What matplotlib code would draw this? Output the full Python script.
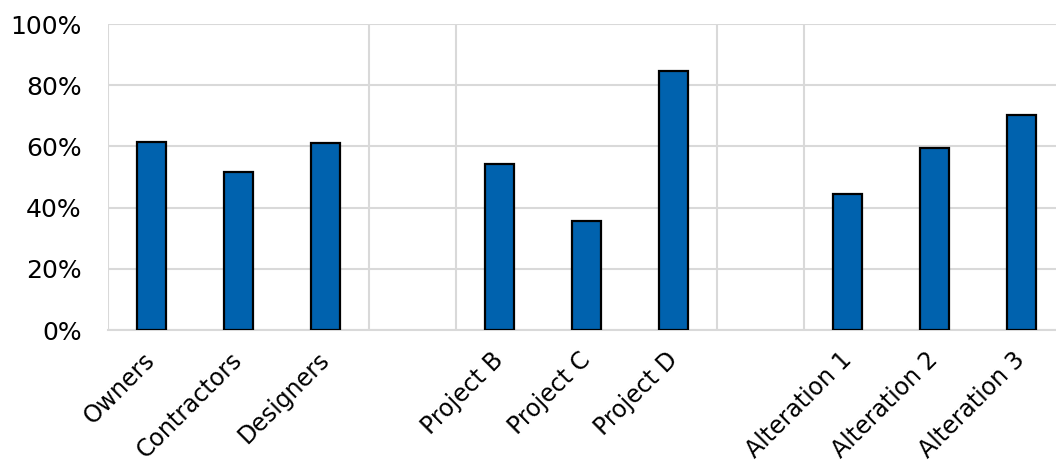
import numpy as np
import matplotlib.pyplot as plt
from matplotlib.ticker import PercentFormatter

# survey groups, projects and alterations; blank slots keep the gaps between groups
categories = ["Owners", "Contractors", "Designers", "",
              "Project B", "Project C", "Project D", "",
              "Alteration 1", "Alteration 2", "Alteration 3"]
values = [61.3, 51.7, 61.0, None,
          54.2, 35.6, 84.6, None,
          44.3, 59.4, 70.2]
group_edges = [0, 3, 4, 7, 8]

bar_color = "#0062ae"
grid_color = "#d9d9d9"

fig = plt.figure(figsize=(10.56, 4.70), dpi=100)
# the plot runs past the right edge of the figure on purpose
ax = fig.add_axes([108 / 1056, 1 - 330 / 470, 957 / 1056, 306 / 470])

x = np.arange(len(categories))
heights = [v if v is not None else 0 for v in values]
mask = [v is not None for v in values]
ax.bar(x[mask], np.array(heights)[mask], width=0.33, color=bar_color,
       edgecolor="black", linewidth=1.6, zorder=3)

ax.set_xlim(-0.5, len(categories) - 0.5)
ax.set_ylim(0, 100)
ax.set_yticks(np.arange(0, 101, 20))
ax.yaxis.set_major_formatter(PercentFormatter(decimals=0))
ax.grid(axis="y", color=grid_color, linewidth=1.5, zorder=0)
for e in group_edges:
    ax.axvline(e - 0.5, color=grid_color, linewidth=1.5, zorder=0)

for s in ["top", "right", "left"]:
    ax.spines[s].set_visible(False)
ax.spines["bottom"].set_color(grid_color)
ax.spines["bottom"].set_linewidth(1.5)

ax.set_xticks(x)
ax.set_xticklabels(categories, rotation=45, ha="right", va="center",
                   rotation_mode="anchor", fontsize=17)
ax.tick_params(axis="x", length=0, pad=19)
ax.tick_params(axis="y", length=0, pad=19, labelsize=18)

fig.savefig("out.png", dpi=100)
